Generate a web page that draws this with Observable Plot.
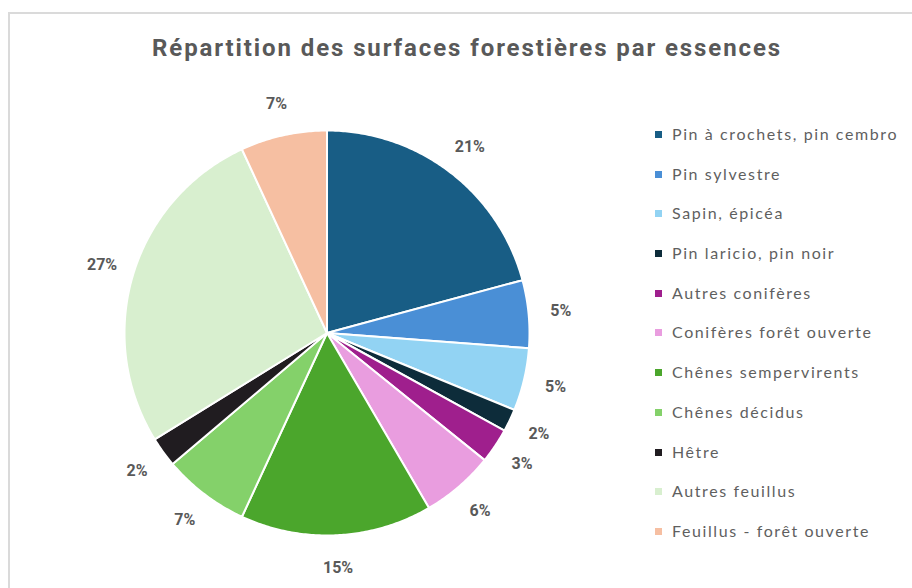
<!DOCTYPE html>
<html>
<head>
<meta charset="utf-8">
<script src="https://cdn.jsdelivr.net/npm/d3@7"></script>
<script src="https://cdn.jsdelivr.net/npm/@observablehq/plot@0.6"></script>
<style>
  html, body { margin: 0; padding: 0; background: #fff; }
  body { width: 912px; height: 588px; position: relative; overflow: hidden; font-family: Roboto, "Noto Sans", sans-serif; }
  #frame { position: absolute; left: 8px; top: 12px; width: 1000px; height: 1000px; border-left: 2px solid #dadada; border-top: 2px solid #dadada; box-sizing: border-box; }
  #title { position: absolute; left: 0; width: 934px; top: 34px; text-align: center; font-family: Roboto, sans-serif; font-weight: 700; font-size: 24px; color: #595959; letter-spacing: 1.9px; white-space: nowrap; }
  #chart { position: absolute; left: 0; top: 0; }
  #legend { position: absolute; left: 655px; top: 124px; font-family: Lato, "Open Sans", sans-serif; font-size: 16px; color: #5f5f5f; letter-spacing: 1.6px; }
  .item { height: 39.7px; display: flex; align-items: flex-start; white-space: nowrap; }
  .sw { width: 7px; height: 7px; margin-top: 7px; margin-right: 10px; flex: none; }
</style>
</head>
<body>
<div id="frame"></div>
<div id="chart"></div>
<div id="title">Répartition des surfaces forestières par essences</div>
<div id="legend"></div>
<script>
const categories = [
  "Pin à crochets, pin cembro",
  "Pin sylvestre",
  "Sapin, épicéa",
  "Pin laricio, pin noir",
  "Autres conifères",
  "Conifères forêt ouverte",
  "Chênes sempervirents",
  "Chênes décidus",
  "Hêtre",
  "Autres feuillus",
  "Feuillus - forêt ouverte"
];
const values = [20.8, 5.4, 5.0, 1.8, 2.8, 5.8, 15.3, 6.9, 2.4, 26.9, 6.9];
const labels = ["21%", "5%", "5%", "2%", "3%", "6%", "15%", "7%", "2%", "27%", "7%"];
const colors = [
  "#185d85", "#4a8fd6", "#92d3f3", "#0d2c3a", "#9f1f8d", "#e99ddf",
  "#4ba62c", "#84d16a", "#201c20", "#d8efcf", "#f6bfa2"
];

const arcs = d3.pie().sort(null).value(d => d)(values);

// slice outlines in unit-circle coordinates (derived from the pie layout)
function slicePoints(a) {
  const pts = [{x: 0, y: 0}];
  const n = Math.max(4, Math.ceil((a.endAngle - a.startAngle) / 0.01));
  for (let i = 0; i <= n; i++) {
    const t = a.startAngle + (a.endAngle - a.startAngle) * i / n;
    pts.push({x: Math.sin(t), y: Math.cos(t)});
  }
  return pts;
}

const labelR = 1.16;
const labelData = arcs.map((a, i) => {
  const m = (a.startAngle + a.endAngle) / 2;
  return {x: labelR * Math.sin(m), y: labelR * Math.cos(m), text: labels[i]};
});

const cx = 326.5, cy = 332.5, r = 202.5;

const plot = Plot.plot({
  width: 912,
  height: 588,
  margin: 0,
  x: {domain: [-1, 1], range: [cx - r, cx + r], axis: null},
  y: {domain: [-1, 1], range: [cy + r, cy - r], axis: null},
  style: {background: "transparent", overflow: "visible"},
  marks: [
    ...arcs.map((a, i) => Plot.line(slicePoints(a), {
      x: "x", y: "y", curve: "linear-closed",
      fill: colors[i], stroke: "white", strokeWidth: 2, strokeLinejoin: "round"
    })),
    Plot.text(labelData, {
      x: "x", y: "y", text: "text",
      fontSize: 16, fontWeight: "bold", fill: "#595959",
      fontFamily: "Roboto, sans-serif", style: "letter-spacing: 0.8px"
    })
  ]
});
document.getElementById("chart").appendChild(plot);

const legend = document.getElementById("legend");
categories.forEach((c, i) => {
  const row = document.createElement("div");
  row.className = "item";
  const sw = document.createElement("span");
  sw.className = "sw";
  sw.style.background = colors[i];
  const tx = document.createElement("span");
  tx.textContent = c;
  row.appendChild(sw);
  row.appendChild(tx);
  legend.appendChild(row);
});
</script>
</body>
</html>
